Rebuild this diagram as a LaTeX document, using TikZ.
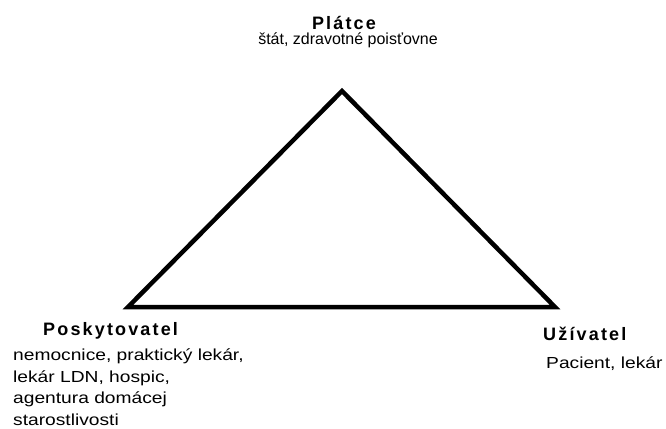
\documentclass[tikz,border=0pt]{standalone}
\usepackage{fontspec}
\setmainfont{Liberation Sans}
\newfontfamily\headfont[LetterSpace=12]{Liberation Sans Bold}
\newfontfamily\widefont[FakeStretch=1.2]{Liberation Sans}

\begin{document}
\begin{tikzpicture}[
    x=1pt, y=-1pt,
    head node/.style={inner sep=0pt, font=\headfont\fontsize{18}{22}\selectfont},
    top text/.style={inner sep=0pt, font=\fontsize{16}{19}\selectfont},
    side text/.style={inner sep=0pt, align=left, font=\widefont\fontsize{16}{21.7}\selectfont},
    side edge/.style={line width=4.5pt, draw=black}
]
\useasboundingbox (0,0) rectangle (666,428);

% vrcholy trojuholnika
\coordinate (A) at (342, 91);
\coordinate (L) at (128, 307);
\coordinate (R) at (555, 307);

\draw[side edge] (A) -- (L) -- (R) -- cycle;

% popisy (base = posledny riadok)
\node[head node, anchor=base] (platce) at (344, 29.3) {Plátce};
\node[top text, anchor=base] (platceinfo) at (348, 45) {štát, zdravotné poisťovne};

\node[head node, anchor=base west] (poskytovatel) at (43, 335) {Poskytovatel};
\node[side text, anchor=base west] (poskytovatelinfo) at (13, 425.5) {nemocnice, praktický lekár,\\lekár LDN, hospic,\\agentura domácej\\starostlivosti};

\node[head node, anchor=base west] (uzivatel) at (543, 340) {Užívatel};
\node[side text, anchor=base west] (uzivatelinfo) at (546, 368) {Pacient, lekár};

\end{tikzpicture}
\end{document}
